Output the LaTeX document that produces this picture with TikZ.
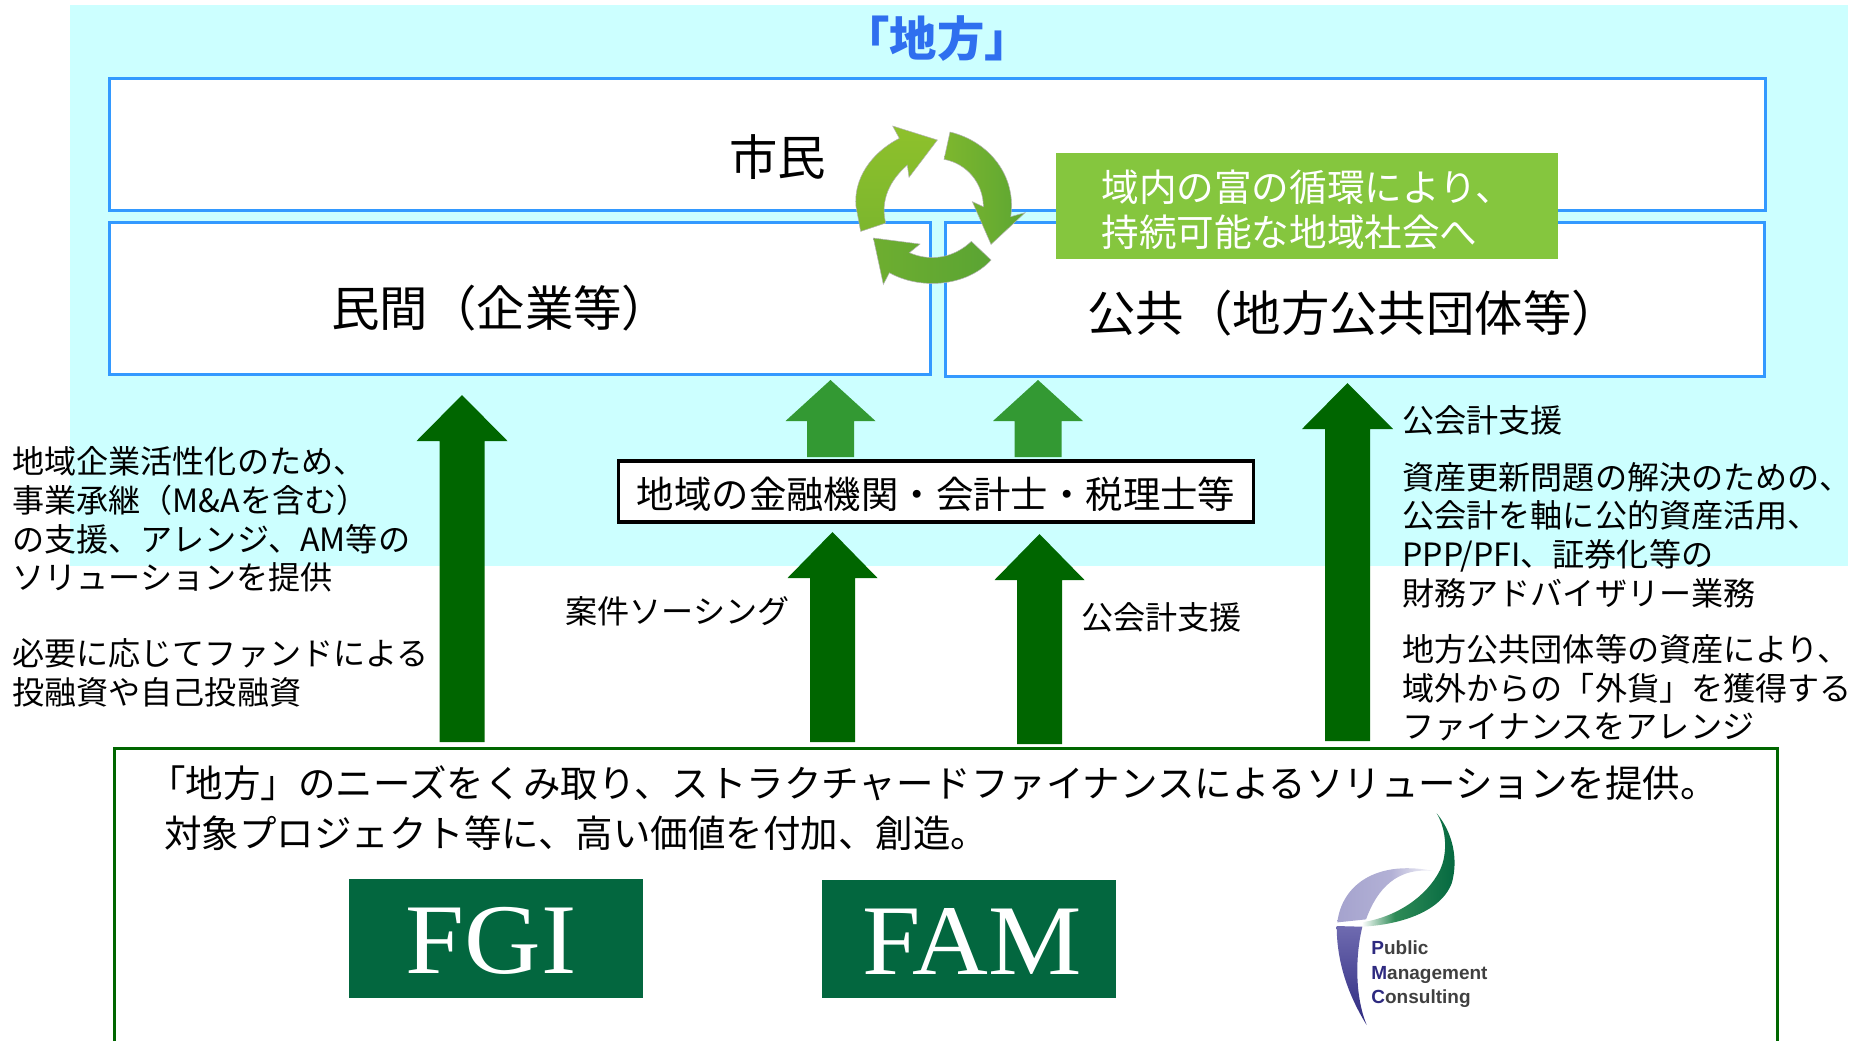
\documentclass[tikz,border=0pt]{standalone}
\usepackage{fontspec}
\setmainfont{Noto Sans CJK JP}
\newfontfamily\serifl{Liberation Serif}
\newfontfamily\arialf{Liberation Sans}
\definecolor{skyfill}{HTML}{CCFFFF}
\definecolor{boxblue}{HTML}{3399FF}
\definecolor{darkarrow}{HTML}{006600}
\definecolor{lightarrow}{HTML}{339933}
\definecolor{banner}{HTML}{85C63E}
\definecolor{logogreen}{HTML}{03673F}
\definecolor{titleblue}{HTML}{2F6FEF}
\definecolor{pmcblue}{HTML}{2E2A80}
\definecolor{cycA}{HTML}{8EC12C}
\definecolor{cycB}{HTML}{7CB62D}
\definecolor{cycC}{HTML}{7EB72E}
\definecolor{cycD}{HTML}{5CA632}
\definecolor{cycE}{HTML}{6EAE30}
\definecolor{cycF}{HTML}{5AA433}
\definecolor{pmcpale}{HTML}{A5A3CE}
\definecolor{pmcmid}{HTML}{6F6BB0}
\definecolor{pmcgreen}{HTML}{2E8B57}
\pgfdeclarehorizontalshading{pmcswoosh}{100bp}{color(0bp)=(white); color(25bp)=(white); color(42bp)=(pmcgreen); color(75bp)=(logogreen); color(100bp)=(logogreen)}
\pgfdeclarehorizontalshading{pmcarc}{100bp}{color(0bp)=(pmcpale); color(25bp)=(pmcpale); color(52bp)=(pmcpale!85!white); color(75bp)=(white); color(100bp)=(white)}
\newcommand{\fs}[1]{\fontsize{#1}{#1}\selectfont}
% colour, x, half shaft, half head, tip y, head base y, bottom y
\newcommand{\blockarrow}[7]{%
  \fill[#1] ({#2-#3},#7) -- ({#2-#3},#6) -- ({#2-#4},#6) -- (#2,#5) -- ({#2+#4},#6) -- ({#2+#3},#6) -- ({#2+#3},#7) -- cycle;}
\tikzset{
  x=0.5pt,y=-0.5pt,
  areabox/.style={draw=boxblue,line width=1.5pt,fill=white,anchor=north west,inner sep=0pt,outer sep=0pt},
  bigtext/.style={anchor=west,inner sep=0pt,font=\fs{24.2}},
  sidetext/.style={anchor=west,inner sep=0pt,align=left,font=\fs{16.05}},
  sidepara/.style={anchor=west,inner sep=0pt,align=left,font=\fontsize{16.05}{19.3}\selectfont},
  logobox/.style={fill=logogreen,anchor=north west,inner sep=0pt,outer sep=0pt,text=white},
  cyc/.style={draw=gray!60,line width=0.25pt},
}
\begin{document}
\begin{tikzpicture}
\useasboundingbox (0,0) rectangle (1860,1041);
\fill[skyfill] (70,5) rectangle (1848,566);
\node[anchor=center,inner sep=0pt,font=\fs{23.7}\bfseries,text=titleblue] (title) at (937,39) {「地方」};
\node[areabox,minimum width=828pt,minimum height=66pt] (citizen) at (109,78) {};
\node[areabox,minimum width=410.5pt,minimum height=76pt] (private) at (109,222) {};
\node[areabox,minimum width=409.5pt,minimum height=77pt] (public) at (945,222) {};
\node[bigtext] (citizenT) at (729,157) {市民};
\node[bigtext] (privateT) at (331,308) {民間（企業等）};
\node[bigtext] (publicT) at (1087,313) {公共（地方公共団体等）};
% cycle arrows
\begin{scope}[shift={(820,100)},x=0.1667pt,y=-0.1667pt]
\shade[cyc,bottom color=cycB,top color=cycA] (122,394) -- (197,369) .. controls (180,300) and (210,240) .. (262,195) -- (267,232) -- (352,120) -- (218,78) -- (238,115) .. controls (150,160) and (100,240) .. (108,320) -- cycle;
\shade[cyc,left color=cycC,right color=cycD] (390,96) .. controls (510,125) and (590,230) .. (572,350) -- (615,338) -- (513,433) -- (457,305) -- (490,320) .. controls (490,250) and (440,190) .. (372,178) -- cycle;
\shade[cyc,left color=cycE,right color=cycF] (454,424) -- (513,480) .. controls (440,560) and (300,570) .. (208,518) -- (190,553) -- (160,414) -- (300,432) -- (268,458) .. controls (330,485) and (400,475) .. (454,424) -- cycle;
\end{scope}
\node[fill=banner,anchor=north west,inner sep=0pt,outer sep=0pt,minimum width=251pt,minimum height=53pt] (bannerbox) at (1056,153) {};
\node[anchor=west,inner sep=0pt,text=white,font=\fs{18.8}] (banner1) at (1101,187) {域内の富の循環により、};
\node[anchor=west,inner sep=0pt,text=white,font=\fs{18.8}] (banner2) at (1101,232) {持続可能な地域社会へ};
% block arrows
\blockarrow{darkarrow}{462}{22.5}{45.5}{395}{441}{742}
\blockarrow{lightarrow}{830.5}{23.5}{45}{380}{421}{457}
\blockarrow{lightarrow}{1038}{23.5}{45}{380}{421}{457}
\blockarrow{darkarrow}{832.5}{22.5}{45}{532}{578}{742}
\blockarrow{darkarrow}{1039.5}{22.5}{45}{534}{580}{744}
\blockarrow{darkarrow}{1347.5}{22.5}{45.5}{383}{429}{741}
\node[draw=black,line width=1.6pt,fill=white,minimum width=317.5pt,minimum height=30.5pt,inner sep=0pt] (bank) at (936,491.5) {};
\node[inner sep=0pt,font=\fs{18.7}] (bankT) at (936,494) {地域の金融機関・会計士・税理士等};
% side texts
\node[sidepara] (leftA) at (12,519.5) {地域企業活性化のため、\\事業承継（M\&Aを含む）\\の支援、アレンジ、AM等の\\ソリューションを提供};
\node[sidepara] (leftB) at (12,673) {必要に応じてファンドによる\\投融資や自己投融資};
\node[sidetext] (source) at (565,611.5) {案件ソーシング};
\node[sidetext] (acct) at (1081,617) {公会計支援};
\node[sidetext] (rightA) at (1402,420) {公会計支援};
\node[sidepara] (rightB) at (1402,535) {資産更新問題の解決のための、\\公会計を軸に公的資産活用、\\PPP/PFI、証券化等の\\財務アドバイザリー業務};
\node[sidepara] (rightC) at (1402,688) {地方公共団体等の資産により、\\域外からの「外貨」を獲得する\\ファイナンスをアレンジ};
% bottom box
\draw[darkarrow,line width=1.5pt] (114,1041) -- (114,748) -- (1777,748) -- (1777,1041);
\node[anchor=west,inner sep=0pt,font=\fs{18.75}] (bottom1) at (148,783) {「地方」のニーズをくみ取り、ストラクチャードファイナンスによるソリューションを提供。};
\node[anchor=west,inner sep=0pt,font=\fs{18.75}] (bottom2) at (164,833) {対象プロジェクト等に、高い価値を付加、創造。};
\node[logobox,minimum width=147pt,minimum height=59.5pt] (fgi) at (349,879) {};
\node[text=white,inner sep=0pt,font=\serifl\fs{50},xscale=1.06] (fgiT) at (491,941) {FGI};
\node[logobox,minimum width=147pt,minimum height=59pt] (fam) at (822,880) {};
\node[text=white,inner sep=0pt,font=\serifl\fs{50},xscale=1.05] (famT) at (972,941) {FAM};
% PMC logo
\begin{scope}[shift={(1280,790)},x=0.1667pt,y=-0.1667pt]
\shade[shading=pmcswoosh] (470,70) .. controls (520,130) and (535,210) .. (515,280) .. controls (480,370) and (350,405) .. (245,410) -- (250,396) .. controls (350,380) and (440,320) .. (480,240) .. controls (503,190) and (500,120) .. (470,70) -- cycle;
\shade[shading=pmcarc] (172,397) .. controls (185,285) and (290,205) .. (472,245) .. controls (350,225) and (290,300) .. (258,388) -- cycle;
\shade[top color=pmcmid,bottom color=pmcblue] (170,408) -- (247,410) .. controls (225,500) and (225,620) .. (260,705) .. controls (195,600) and (170,500) .. (170,408) -- cycle;
\end{scope}
\node[anchor=base west,inner sep=0pt,font=\arialf\bfseries\fs{9.5}] (pmc1) at (1371,954) {\textcolor{pmcblue}{P}\textcolor{black!75}{ublic}};
\node[anchor=base west,inner sep=0pt,font=\arialf\bfseries\fs{9.5}] (pmc2) at (1371,979) {\textcolor{pmcblue}{M}\textcolor{black!75}{anagement}};
\node[anchor=base west,inner sep=0pt,font=\arialf\bfseries\fs{9.5}] (pmc3) at (1371,1003) {\textcolor{pmcblue}{C}\textcolor{black!75}{onsulting}};
\end{tikzpicture}
\end{document}
